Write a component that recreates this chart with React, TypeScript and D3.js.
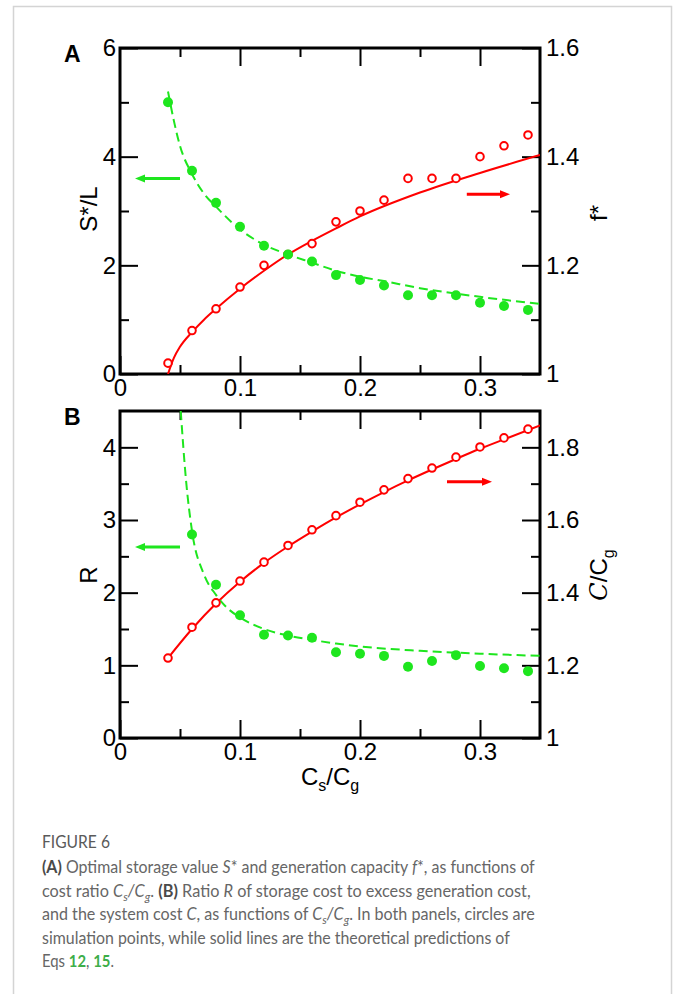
import React, { useEffect, useRef } from "react";
import * as d3 from "d3";

// simulation points (circles)
const xSimA = [0.04, 0.06, 0.08, 0.1, 0.12, 0.14, 0.16, 0.18, 0.2, 0.22, 0.24, 0.26, 0.28, 0.3, 0.32, 0.34];
const fStarSim = [1.02, 1.08, 1.12, 1.16, 1.2, 1.22, 1.24, 1.28, 1.3, 1.32, 1.36, 1.36, 1.36, 1.4, 1.42, 1.44];
const sStarSim = [5.0, 3.74, 3.15, 2.71, 2.36, 2.2, 2.07, 1.82, 1.73, 1.63, 1.45, 1.45, 1.45, 1.31, 1.25, 1.18];

const xSimCost = [0.04, 0.06, 0.08, 0.1, 0.12, 0.14, 0.16, 0.18, 0.2, 0.22, 0.24, 0.26, 0.28, 0.3, 0.32, 0.34];
const costSim = [1.22, 1.305, 1.372, 1.432, 1.484, 1.53, 1.573, 1.612, 1.649, 1.683, 1.714, 1.743, 1.773, 1.801, 1.826, 1.85];
const xSimR = [0.06, 0.08, 0.1, 0.12, 0.14, 0.16, 0.18, 0.2, 0.22, 0.24, 0.26, 0.28, 0.3, 0.32, 0.34];
const rSim = [2.8, 2.11, 1.69, 1.42, 1.41, 1.38, 1.18, 1.16, 1.13, 0.98, 1.06, 1.14, 0.99, 0.96, 0.92];

// theory curves
const xTheoryF = [0.04, 0.045, 0.05, 0.06, 0.07, 0.08, 0.1, 0.12, 0.14, 0.16, 0.18, 0.2, 0.25, 0.3, 0.35];
const fStarTheory = [1.0, 1.03, 1.05, 1.077, 1.1, 1.12, 1.157, 1.19, 1.22, 1.245, 1.268, 1.29, 1.334, 1.37, 1.403];
const xTheoryS = [0.04, 0.045, 0.05, 0.06, 0.07, 0.08, 0.1, 0.12, 0.14, 0.16, 0.18, 0.2, 0.22, 0.25, 0.28, 0.3, 0.35];
const sStarTheory = [5.2, 4.65, 4.2, 3.68, 3.32, 3.08, 2.66, 2.38, 2.2, 2.05, 1.9, 1.79, 1.71, 1.58, 1.48, 1.42, 1.29];
const xTheoryCost = [0.04, 0.06, 0.08, 0.1, 0.12, 0.14, 0.16, 0.18, 0.2, 0.22, 0.24, 0.26, 0.28, 0.3, 0.32, 0.35];
const costTheory = [1.22, 1.3, 1.37, 1.43, 1.482, 1.527, 1.568, 1.607, 1.643, 1.677, 1.709, 1.739, 1.768, 1.796, 1.822, 1.86];
const xTheoryR = [0.0506, 0.055, 0.06, 0.07, 0.08, 0.09, 0.1, 0.12, 0.14, 0.16, 0.18, 0.2, 0.25, 0.3, 0.35];
const rTheory = [4.5, 3.55, 2.85, 2.25, 1.97, 1.78, 1.66, 1.5, 1.41, 1.35, 1.3, 1.26, 1.2, 1.16, 1.13];

// ticks
const xTicks = [0, 0.1, 0.2, 0.3];
const xMinor = [0.05, 0.15, 0.25];
const sTicks = [0, 2, 4, 6];
const sMinor = [1, 3, 5];
const fTicks = [1, 1.2, 1.4, 1.6];
const fMinor = [1.1, 1.3, 1.5];
const rTicks = [0, 1, 2, 3, 4];
const rMinor = [0.5, 1.5, 2.5, 3.5];
const cTicks = [1, 1.2, 1.4, 1.6, 1.8];
const cMinor = [1.1, 1.3, 1.5, 1.7];

const GREEN = "#1ee61e";
const RED = "#ff0000";
const FONT = "'Liberation Sans', Arial, Helvetica, sans-serif";

function drawPanel(svg, o) {
  const x = d3.scaleLinear().domain([0, 0.35]).range([120, 540]);
  const yL = d3.scaleLinear().domain(o.leftDomain).range([o.bottom, o.top]);
  const yR = d3.scaleLinear().domain(o.rightDomain).range([o.bottom, o.top]);
  const fmt = (d) => String(+d.toFixed(2));

  const g = svg.append("g");
  const clipId = "clip" + o.id;
  g.append("clipPath").attr("id", clipId)
    .append("rect").attr("x", 120).attr("y", o.top).attr("width", 420).attr("height", o.bottom - o.top);

  const axisStyle = (sel) => {
    sel.attr("font-family", FONT).attr("font-size", 24);
    sel.select(".domain").remove();
    sel.selectAll("line").attr("stroke", "#000").attr("stroke-width", 2);
    sel.selectAll("text").attr("fill", "#000");
  };

  // bottom
  g.append("g").attr("transform", `translate(0,${o.bottom})`)
    .call(d3.axisBottom(x).tickValues(xTicks).tickSize(-18).tickPadding(5).tickFormat(fmt)).call(axisStyle);
  g.append("g").attr("transform", `translate(0,${o.bottom})`)
    .call(d3.axisBottom(x).tickValues(xMinor).tickSize(-9).tickFormat(() => "")).call(axisStyle);
  // top
  g.append("g").attr("transform", `translate(0,${o.top})`)
    .call(d3.axisTop(x).tickValues(xTicks.slice(1)).tickSize(-18).tickFormat(() => "")).call(axisStyle);
  g.append("g").attr("transform", `translate(0,${o.top})`)
    .call(d3.axisTop(x).tickValues(xMinor).tickSize(-9).tickFormat(() => "")).call(axisStyle);
  // left
  g.append("g").attr("transform", `translate(120,0)`)
    .call(d3.axisLeft(yL).tickValues(o.leftTicks).tickSize(-18).tickPadding(4).tickFormat(fmt)).call(axisStyle);
  g.append("g").attr("transform", `translate(120,0)`)
    .call(d3.axisLeft(yL).tickValues(o.leftMinor).tickSize(-9).tickFormat(() => "")).call(axisStyle);
  // right
  g.append("g").attr("transform", `translate(540,0)`)
    .call(d3.axisRight(yR).tickValues(o.rightTicks).tickSize(-18).tickPadding(6).tickFormat(fmt)).call(axisStyle);
  g.append("g").attr("transform", `translate(540,0)`)
    .call(d3.axisRight(yR).tickValues(o.rightMinor).tickSize(-9).tickFormat(() => "")).call(axisStyle);

  // frame
  g.append("rect").attr("x", 120).attr("y", o.top).attr("width", 420).attr("height", o.bottom - o.top)
    .attr("fill", "none").attr("stroke", "#000").attr("stroke-width", 3);

  const plot = g.append("g").attr("clip-path", `url(#${clipId})`);

  // red theory (right axis)
  const redLine = d3.line().x((d) => x(d[0])).y((d) => yR(d[1])).curve(d3.curveMonotoneX);
  plot.append("path").datum(d3.zip(o.redTheoryX, o.redTheory)).attr("d", redLine)
    .attr("fill", "none").attr("stroke", RED).attr("stroke-width", 2);
  // green theory (left axis)
  const greenLine = d3.line().x((d) => x(d[0])).y((d) => yL(d[1])).curve(d3.curveMonotoneX);
  plot.append("path").datum(d3.zip(o.greenTheoryX, o.greenTheory)).attr("d", greenLine)
    .attr("fill", "none").attr("stroke", GREEN).attr("stroke-width", 2).attr("stroke-dasharray", "9,5");

  // points
  g.selectAll(null).data(d3.zip(o.redSimX, o.redSim)).enter().append("circle")
    .attr("cx", (d) => x(d[0])).attr("cy", (d) => yR(d[1])).attr("r", 3.8)
    .attr("fill", "#fff").attr("stroke", RED).attr("stroke-width", 2);
  g.selectAll(null).data(d3.zip(o.greenSimX, o.greenSim)).enter().append("circle")
    .attr("cx", (d) => x(d[0])).attr("cy", (d) => yL(d[1])).attr("r", 5)
    .attr("fill", GREEN);

  // arrows
  const arrow = (x1, x2, y, color) => {
    const dir = x2 > x1 ? 1 : -1;
    g.append("line").attr("x1", x1).attr("x2", x2 - dir * 8).attr("y1", y).attr("y2", y)
      .attr("stroke", color).attr("stroke-width", 3);
    g.append("path").attr("d", `M${x2},${y} L${x2 - dir * 10},${y - 4} L${x2 - dir * 10},${y + 4} Z`).attr("fill", color);
  };
  arrow(x(o.greenArrow[0]), x(o.greenArrow[1]), yL(o.greenArrow[2]), GREEN);
  arrow(x(o.redArrow[0]), x(o.redArrow[1]), yR(o.redArrow[2]), RED);

  // panel letter
  g.append("text").attr("x", 64).attr("y", o.top + 14).text(o.letter)
    .attr("font-family", FONT).attr("font-weight", "bold").attr("font-size", 23);

  // axis titles
  const lt = g.append("text").attr("transform", `translate(97,${o.leftLabelY}) rotate(-90)`)
    .attr("text-anchor", "middle").attr("font-family", FONT).attr("font-size", 24);
  o.leftLabel(lt);
  const rt = g.append("text").attr("transform", `translate(607,${o.rightLabelY}) rotate(-90)`)
    .attr("text-anchor", "middle").attr("font-family", FONT).attr("font-size", 24);
  o.rightLabel(rt);

  return x;
}

function Chart() {
  const ref = useRef(null);
  useEffect(() => {
    const svg = d3.select(ref.current);
    svg.selectAll("*").remove();

    svg.append("rect").attr("x", 13.5).attr("y", 6.5).attr("width", 658).attr("height", 1000)
      .attr("fill", "#fff").attr("stroke", "#d4d4d4").attr("stroke-width", 1.5);

    drawPanel(svg, {
      id: "A", letter: "A", top: 48, bottom: 374,
      leftDomain: [0, 6], rightDomain: [1, 1.6],
      leftTicks: sTicks, leftMinor: sMinor, rightTicks: fTicks, rightMinor: fMinor,
      redTheoryX: xTheoryF, redTheory: fStarTheory, greenTheoryX: xTheoryS, greenTheory: sStarTheory,
      redSimX: xSimA, redSim: fStarSim, greenSimX: xSimA, greenSim: sStarSim,
      greenArrow: [0.05, 0.0125, 3.6], redArrow: [0.289, 0.325, 1.331],
      leftLabelY: 209, rightLabelY: 213,
      leftLabel: (t) => t.text("S*/L"),
      rightLabel: (t) => t.text("f*"),
    });

    const x = drawPanel(svg, {
      id: "B", letter: "B", top: 411, bottom: 738,
      leftDomain: [0, 4.5], rightDomain: [1, 1.9],
      leftTicks: rTicks, leftMinor: rMinor, rightTicks: cTicks, rightMinor: cMinor,
      redTheoryX: xTheoryCost, redTheory: costTheory, greenTheoryX: xTheoryR, greenTheory: rTheory,
      redSimX: xSimCost, redSim: costSim, greenSimX: xSimR, greenSim: rSim,
      greenArrow: [0.05, 0.0125, 2.63], redArrow: [0.2725, 0.31, 1.705],
      leftLabelY: 575, rightLabelY: 575,
      leftLabel: (t) => t.text("R"),
      rightLabel: (t) => {
        t.append("tspan").text("C").attr("font-family", "'DejaVu Serif', serif").attr("font-style", "italic");
        t.append("tspan").text("/C");
        t.append("tspan").text("g").attr("font-size", 16).attr("dy", 7);
      },
    });

    // x title
    const xt = svg.append("text").attr("x", x(0.175)).attr("y", 785).attr("text-anchor", "middle")
      .attr("font-family", FONT).attr("font-size", 24);
    xt.append("tspan").text("C");
    xt.append("tspan").text("s").attr("font-size", 16).attr("dy", 6);
    xt.append("tspan").text("/C").attr("dy", -6);
    xt.append("tspan").text("g").attr("font-size", 16).attr("dy", 6);

    // caption: each line squeezed horizontally to the reference width
    const CAP = "Lato, 'Open Sans', sans-serif";
    const gray = "#666";
    const squeeze = (t, left, y, w) => {
      const natural = t.node().getComputedTextLength();
      const sx = natural > 0 ? w / natural : 1;
      t.attr("transform", `translate(${left},${y}) scale(${sx},1)`);
    };
    const fig = svg.append("text").text("FIGURE 6")
      .attr("font-family", CAP).attr("font-size", 17).attr("fill", "#5a5a5a");
    squeeze(fig, 42, 848, 68);

    const lines = [
      { y: 873, w: 493, parts: [["(A)", "b"], [" Optimal storage value "], ["S", "i"], ["* and generation capacity "], ["f", "i"], ["*, as functions of"]] },
      { y: 897, w: 489, parts: [["cost ratio "], ["C", "i"], ["s", "is"], ["/", "iu"], ["C", "i"], ["g", "is"], [".", "u"], [" "], ["(B)", "b"], [" Ratio "], ["R", "i"], [" of storage cost to excess generation cost,"]] },
      { y: 920, w: 493, parts: [["and the system cost "], ["C", "i"], [", as functions of "], ["C", "i"], ["s", "is"], ["/", "iu"], ["C", "i"], ["g", "is"], [". In both panels, circles are", "u"]] },
      { y: 944, w: 468, parts: [["simulation points, while solid lines are the theoretical predictions of"]] },
      { y: 967, w: 72, parts: [["Eqs "], ["12", "g"], [", "], ["15", "g"], ["."]] },
    ];
    lines.forEach((l) => {
      const t = svg.append("text").attr("font-family", CAP)
        .attr("font-size", 17).attr("fill", gray);
      l.parts.forEach(([s, k]) => {
        const sp = t.append("tspan").text(s);
        if (k === "b") sp.attr("font-weight", "bold").attr("fill", "#4a4a4a");
        if (k === "i") sp.attr("font-style", "italic");
        if (k === "iu") sp.attr("font-style", "italic").attr("dy", -4);
        if (k === "u") sp.attr("dy", -4);
        if (k === "is") sp.attr("font-style", "italic").attr("font-size", 12).attr("dy", 4);
        if (k === "g") sp.attr("font-weight", "bold").attr("fill", "#3dae49");
      });
      squeeze(t, 42, l.y, l.w);
    });
  }, []);
  return <svg ref={ref} width={678} height={994} style={{ position: "absolute", left: 0, top: 0 }} />;
}

export default function App() {
  return <Chart />;
}
